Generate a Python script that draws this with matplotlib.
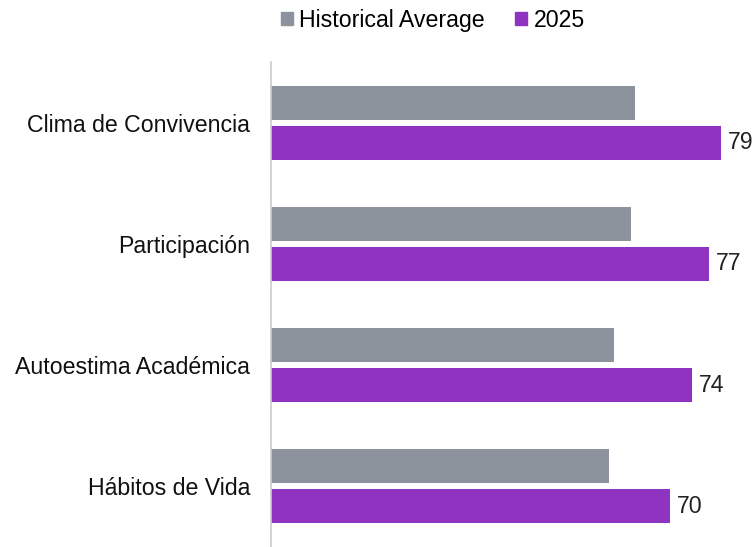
import numpy as np
import matplotlib.pyplot as plt
from matplotlib.patches import Patch

plt.rcParams['font.family'] = ['Liberation Sans', 'DejaVu Sans']

# data
categories = ["Clima de Convivencia", "Participación", "Autoestima Académica", "Hábitos de Vida"]
historical = [64.0, 63.2, 60.3, 59.3]
values_2025 = [79, 77, 74, 70]

gray = "#8C939C"
purple = "#8F34C0"

fig = plt.figure(figsize=(7.55, 5.47), dpi=100)
ax = fig.add_axes([271 / 755, 0.0, 1 - 271 / 755, 1 - 62 / 547])

y = np.arange(len(categories))
h = 0.28
off = 0.165
ax.barh(y - off, historical, height=h, color=gray)
bars = ax.barh(y + off, values_2025, height=h, color=purple)

for b, v in zip(bars, values_2025):
    ax.text(b.get_width() + 1.2, b.get_y() + b.get_height() / 2, str(v),
            va="center", ha="left", fontsize=16.7, color="#222222")

ax.set_xlim(0, 85)
ax.set_ylim(3.5, -0.5)
ax.set_yticks(y)
ax.set_yticklabels(categories, fontsize=16.7, color="#111111")
ax.tick_params(axis="y", length=0, pad=15)
ax.set_xticks([])
for s in ["top", "right", "bottom"]:
    ax.spines[s].set_visible(False)
ax.spines["left"].set_color("#CCCCCC")
ax.spines["left"].set_linewidth(1.2)

handles = [Patch(color=gray, label="Historical Average"), Patch(color=purple, label="2025")]
fig.legend(handles=handles, loc="center", bbox_to_anchor=(0.5735, 0.963), ncol=2,
           frameon=False, fontsize=16.7, handlelength=0.5, handleheight=0.5,
           handletextpad=0.3, columnspacing=1.3)

fig.savefig("out.png", dpi=100)
